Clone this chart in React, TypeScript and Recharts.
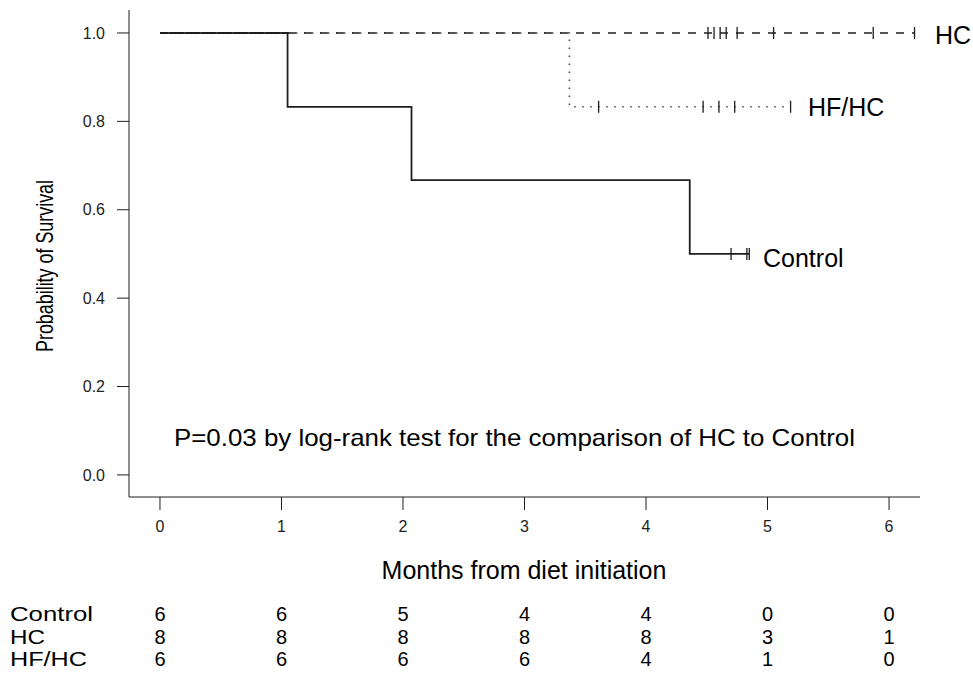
import { LineChart, Line, XAxis, YAxis } from 'recharts';

// Kaplan-Meier curves, months from diet initiation
const controlTime = [0, 1.05, 2.07, 4.36, 4.70, 4.83, 4.85];
const controlSurv = [1, 0.833, 0.667, 0.5, 0.5, 0.5, 0.5];
const controlCens = [false, false, false, false, true, true, true];

const hcTime = [0, 4.51, 4.56, 4.61, 4.66, 4.75, 5.05, 5.87, 6.21];
const hcSurv = [1, 1, 1, 1, 1, 1, 1, 1, 1];
const hcCens = [false, true, true, true, true, true, true, true, true];

const hfhcTime = [0, 3.37, 3.61, 4.47, 4.60, 4.73, 5.19];
const hfhcSurv = [1, 0.833, 0.833, 0.833, 0.833, 0.833, 0.833];
const hfhcCens = [false, false, true, true, true, true, true];

// numbers at risk
const riskTicks = [0, 1, 2, 3, 4, 5, 6];
const riskGroups = ['Control', 'HC', 'HF/HC'];
const riskLabelWidth = [83, 35, 77];
const riskControl = [6, 6, 5, 4, 4, 0, 0];
const riskHC = [8, 8, 8, 8, 8, 3, 1];
const riskHFHC = [6, 6, 6, 6, 4, 1, 0];

const yTicks = [0, 0.2, 0.4, 0.6, 0.8, 1.0];

const FONT = '"Liberation Sans", Arial, Helvetica, sans-serif';
const INK = '#1e1e1e';
const ROW_Y = [621, 644, 666];
const ROW_FONT = 20;

const build = (t: number[], s: number[], c: boolean[]) =>
  t.map((v, i) => ({ t: v, s: s[i], c: c[i] }));

const controlData = build(controlTime, controlSurv, controlCens);
const hcData = build(hcTime, hcSurv, hcCens);
const hfhcData = build(hfhcTime, hfhcSurv, hfhcCens);

const censorDot = (name: string) => (props: any) => {
  const { cx, cy, payload, index } = props;
  if (!payload || !payload.c) return <g key={`${name}-${index}`} />;
  return (
    <line
      key={`${name}-${index}`}
      x1={cx}
      x2={cx}
      y1={cy - 6}
      y2={cy + 6}
      stroke={INK}
      strokeWidth={1.3}
    />
  );
};

const RiskTick = (props: any) => {
  const { x, index } = props;
  const rows = [riskControl, riskHC, riskHFHC];
  return (
    <g>
      {rows.map((r, i) => (
        <text
          key={i}
          x={x}
          y={ROW_Y[i]}
          textAnchor="middle"
          fontSize={ROW_FONT}
          fontFamily={FONT}
          fill="#000"
        >
          {r[index]}
        </text>
      ))}
    </g>
  );
};

export default function App() {
  return (
    <div style={{ position: 'absolute', left: 0, top: 0, width: 973, height: 676, background: '#fff' }}>
      <LineChart
        width={973}
        height={676}
        margin={{ top: 10, right: 53, bottom: 148, left: 69 }}
      >
        <XAxis
          dataKey="t"
          type="number"
          domain={[-0.255, 6.255]}
          ticks={riskTicks}
          allowDataOverflow
          height={30}
          tickSize={13}
          tickMargin={11}
          stroke={INK}
          tick={{ fontSize: 16, fontFamily: FONT, fill: '#222' }}
        />
        <XAxis
          xAxisId="risk"
          dataKey="t"
          type="number"
          domain={[-0.255, 6.255]}
          ticks={riskTicks}
          allowDataOverflow
          height={1}
          axisLine={false}
          tickLine={false}
          tick={<RiskTick />}
        />
        <YAxis
          type="number"
          domain={[-0.05, 1.052]}
          ticks={yTicks}
          allowDataOverflow
          width={60}
          tickSize={12}
          tickMargin={12}
          stroke={INK}
          tickFormatter={(v: number) => v.toFixed(1)}
          tick={{ fontSize: 16, fontFamily: FONT, fill: '#222' }}
        />
        <Line
          data={controlData}
          dataKey="s"
          type="stepAfter"
          stroke={INK}
          strokeWidth={1.8}
          dot={censorDot('control')}
          activeDot={false}
          isAnimationActive={false}
        />
        <Line
          data={hfhcData}
          dataKey="s"
          type="stepAfter"
          stroke="#444"
          strokeWidth={1.6}
          strokeDasharray="1.5 6.5"
          dot={censorDot('hfhc')}
          activeDot={false}
          isAnimationActive={false}
        />
        <Line
          data={hcData}
          dataKey="s"
          type="stepAfter"
          stroke={INK}
          strokeWidth={1.7}
          strokeDasharray="8 8"
          dot={censorDot('hc')}
          activeDot={false}
          isAnimationActive={false}
        />
      </LineChart>
      <svg
        width={973}
        height={676}
        style={{ position: 'absolute', left: 0, top: 0, pointerEvents: 'none' }}
        fontFamily={FONT}
      >
        <text x={935} y={44} fontSize={25} fill="#000">HC</text>
        <text x={808} y={116} fontSize={25} fill="#000">HF/HC</text>
        <text x={763} y={267} fontSize={25} fill="#000">Control</text>
        <text x={174} y={446} fontSize={24} fill="#000" textLength={681} lengthAdjust="spacingAndGlyphs">
          P=0.03 by log-rank test for the comparison of HC to Control
        </text>
        <text x={524} y={579} fontSize={25} fill="#000" textAnchor="middle">
          Months from diet initiation
        </text>
        <text
          transform="translate(53,266) rotate(-90)"
          fontSize={24}
          fill="#000"
          textAnchor="middle"
          textLength={172}
          lengthAdjust="spacingAndGlyphs"
        >
          Probability of Survival
        </text>
        {riskGroups.map((g, i) => (
          <text
            key={g}
            x={10}
            y={ROW_Y[i]}
            fontSize={ROW_FONT}
            fill="#000"
            textLength={riskLabelWidth[i]}
            lengthAdjust="spacingAndGlyphs"
          >
            {g}
          </text>
        ))}
      </svg>
    </div>
  );
}
